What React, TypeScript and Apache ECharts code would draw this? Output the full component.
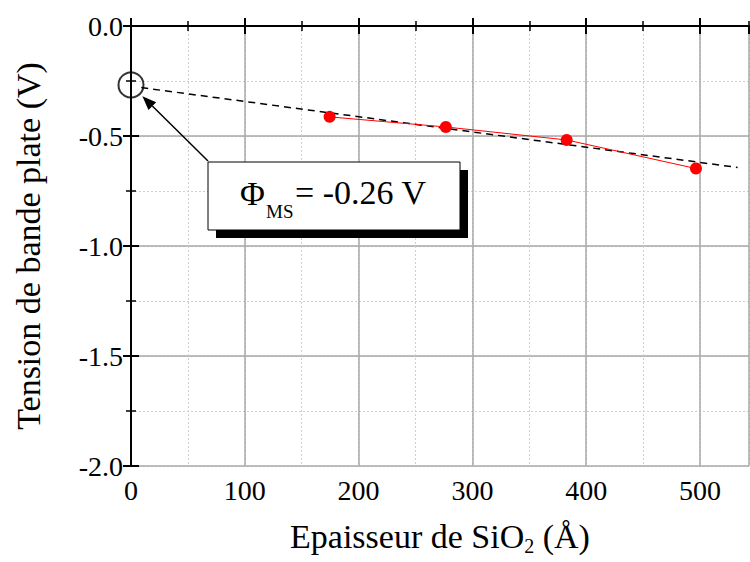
import React, { useEffect, useRef } from "react";
import * as echarts from "echarts";

// Data
const thickness = [174.5, 276.6, 382.8, 496.4]; // Å
const flatband = [-0.413, -0.459, -0.518, -0.648]; // V
const fitX = [9, 533];
const fitY = [-0.28, -0.643];
const interceptPoint = [0, -0.268];
const xTicksMajor = 100;
const xTicksMinor = 50;
const yTicksMajor = 0.5;
const yTicksMinor = 0.25;
const annotationText = "= -0.26 V";

const FONT = "Liberation Serif";

export default function App() {
  const ref = useRef<HTMLDivElement>(null);
  useEffect(() => {
    if (!ref.current) return;
    const chart = echarts.init(ref.current, undefined, { renderer: "svg" });
    const xBase = { type: "value", min: 0, max: 543 };
    const yBase = { type: "value", min: -2, max: 0 };
    const black = "#000";
    const labelStyle = { color: black, fontSize: 28, fontFamily: FONT };
    const option: any = {
      animation: false,
      textStyle: { fontFamily: FONT },
      grid: { left: 131, top: 26, right: 1, bottom: 96, containLabel: false },
      xAxis: [
        {
          ...xBase,
          position: "bottom",
          interval: xTicksMinor,
          axisLine: { show: false },
          axisTick: { show: true, inside: true, length: 5, lineStyle: { color: black, width: 1.5 } },
          axisLabel: { show: false },
          splitLine: { show: true, lineStyle: { color: "#cfcfcf", type: [2, 2], width: 1 } },
        },
        {
          ...xBase,
          position: "top",
          interval: xTicksMinor,
          axisLine: { show: false },
          axisTick: { show: true, inside: true, length: 5, lineStyle: { color: black, width: 1.5 } },
          axisLabel: { show: false },
          splitLine: { show: false },
        },
        {
          ...xBase,
          position: "top",
          interval: xTicksMajor,
          axisLine: { show: true, lineStyle: { color: black, width: 2 } },
          axisTick: { show: true, inside: true, length: 8, lineStyle: { color: black, width: 2 } },
          axisLabel: { show: false },
          splitLine: { show: false },
        },
        {
          ...xBase,
          position: "bottom",
          interval: xTicksMajor,
          axisLine: { show: true, lineStyle: { color: black, width: 2 } },
          axisTick: { show: true, inside: true, length: 8, lineStyle: { color: black, width: 2 } },
          axisLabel: { ...labelStyle, margin: 10, showMaxLabel: false },
          splitLine: { show: true, lineStyle: { color: "#a8a8a8", width: 1.5 } },
          name: "Epaisseur de SiO{sub|2} (Å)",
          nameLocation: "middle",
          nameGap: 50,
          nameTextStyle: {
            color: black,
            fontSize: 34,
            fontFamily: FONT,
            lineHeight: 40,
            rich: {
              sub: { fontSize: 20, fontFamily: FONT, color: black, lineHeight: 20, verticalAlign: "bottom" },
            },
          },
        },
      ],
      yAxis: [
        {
          ...yBase,
          position: "left",
          interval: yTicksMinor,
          axisLine: { show: false },
          axisTick: { show: true, inside: true, length: 5, lineStyle: { color: black, width: 1.5 } },
          axisLabel: { show: false },
          splitLine: { show: true, lineStyle: { color: "#cfcfcf", type: [2, 2], width: 1 } },
        },
        {
          ...yBase,
          position: "right",
          interval: yTicksMinor,
          axisLine: { show: false },
          axisTick: { show: true, inside: true, length: 5, lineStyle: { color: black, width: 1.5 } },
          axisLabel: { show: false },
          splitLine: { show: false },
        },
        {
          ...yBase,
          position: "right",
          interval: yTicksMajor,
          axisLine: { show: true, lineStyle: { color: black, width: 2 } },
          axisTick: { show: true, inside: true, length: 8, lineStyle: { color: black, width: 2 } },
          axisLabel: { show: false },
          splitLine: { show: false },
        },
        {
          ...yBase,
          position: "left",
          interval: yTicksMajor,
          axisLine: { show: true, lineStyle: { color: black, width: 2 } },
          axisTick: { show: true, inside: true, length: 8, lineStyle: { color: black, width: 2 } },
          axisLabel: {
            ...labelStyle,
            margin: 8,
            formatter: (v: number) => v.toFixed(1),
          },
          splitLine: { show: true, lineStyle: { color: "#a8a8a8", width: 1.5 } },
          name: "Tension de bande plate (V)",
          nameLocation: "middle",
          nameGap: 86,
          nameTextStyle: { color: black, fontSize: 34, fontFamily: FONT },
        },
      ],
      series: [
        {
          type: "line",
          xAxisIndex: 3,
          yAxisIndex: 3,
          data: fitX.map((x, i) => [x, fitY[i]]),
          showSymbol: false,
          symbol: "none",
          lineStyle: { color: black, width: 1.5, type: [7, 5] },
          z: 3,
        },
        {
          type: "line",
          xAxisIndex: 3,
          yAxisIndex: 3,
          data: thickness.map((x, i) => [x, flatband[i]]),
          symbol: "circle",
          symbolSize: 12,
          itemStyle: { color: "#ff0000" },
          lineStyle: { color: "#ff0000", width: 1 },
          z: 4,
        },
        {
          type: "scatter",
          xAxisIndex: 3,
          yAxisIndex: 3,
          data: [interceptPoint],
          symbol: "circle",
          symbolSize: 25,
          clip: false,
          itemStyle: { color: "rgba(0,0,0,0)", borderColor: black, borderWidth: 2 },
          z: 5,
        },
      ],
    };
    chart.setOption(option);

    // Annotation (arrow + boxed label)
    const c = chart.convertToPixel({ xAxisIndex: 3, yAxisIndex: 3 }, interceptPoint) as number[];
    const tail = [208, 161];
    const dx = tail[0] - c[0];
    const dy = tail[1] - c[1];
    const len = Math.sqrt(dx * dx + dy * dy);
    const ux = dx / len;
    const uy = dy / len;
    const tip = [c[0] + ux * 16, c[1] + uy * 16];
    const headLen = 14;
    const headHalf = 5.5;
    const base = [tip[0] + ux * headLen, tip[1] + uy * headLen];
    const px = -uy;
    const py = ux;
    chart.setOption({
      graphic: [
        {
          type: "line",
          shape: { x1: base[0], y1: base[1], x2: tail[0], y2: tail[1] },
          style: { stroke: black, lineWidth: 1.5 },
          z: 10,
        },
        {
          type: "polygon",
          shape: {
            points: [
              tip,
              [base[0] + px * headHalf, base[1] + py * headHalf],
              [base[0] - px * headHalf, base[1] - py * headHalf],
            ],
          },
          style: { fill: black },
          z: 10,
        },
        {
          type: "rect",
          shape: { x: 216, y: 170, width: 252, height: 68 },
          style: { fill: black },
          z: 10,
        },
        {
          type: "rect",
          shape: { x: 208, y: 162, width: 252, height: 68 },
          style: { fill: "#fff", stroke: black, lineWidth: 1 },
          z: 11,
        },
        {
          type: "text",
          x: 240,
          y: 193,
          style: { text: "Φ", fontSize: 34, fontFamily: FONT, fill: black, verticalAlign: "middle", align: "left" },
          z: 12,
        },
        {
          type: "text",
          x: 266,
          y: 211,
          style: { text: "MS", fontSize: 19, fontFamily: FONT, fill: black, verticalAlign: "middle", align: "left" },
          z: 12,
        },
        {
          type: "text",
          x: 295,
          y: 192,
          style: { text: annotationText, fontSize: 34, fontFamily: FONT, fill: black, verticalAlign: "middle", align: "left" },
          z: 12,
        },
      ],
    });
    return () => chart.dispose();
  }, []);
  return (
    <div
      ref={ref}
      style={{ position: "fixed", left: 0, top: 0, width: 750, height: 562, background: "#fff" }}
    />
  );
}
